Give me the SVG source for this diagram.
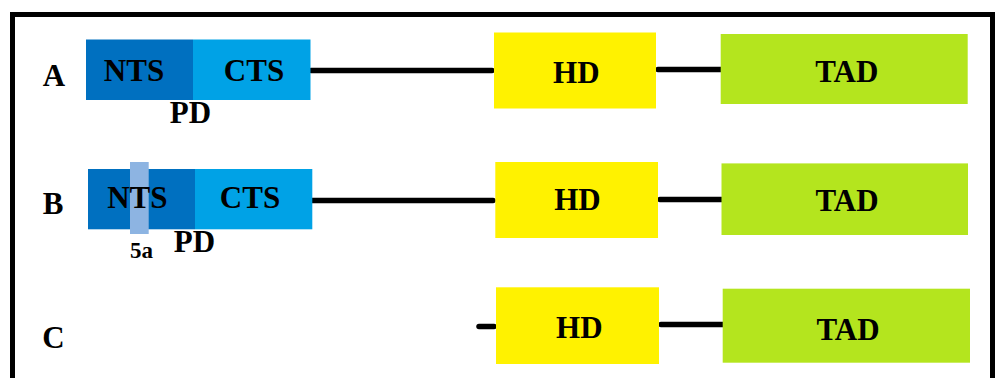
<svg xmlns="http://www.w3.org/2000/svg" width="999" height="378" viewBox="0 0 999 378">
  <style>
    .t { font-family: "Liberation Serif", "Times New Roman", serif; font-weight: bold; font-size: 31px; fill: #000; text-anchor: middle; }
    .s { font-size: 23px; }
    .conn { stroke: #000; stroke-width: 5.5; stroke-linecap: round; fill: none; }
    .nts { fill: #0070C0; }
    .cts { fill: #00A2E6; }
    .hd { fill: #FFF200; }
    .tad { fill: #B4E51E; }
    .bar { fill: #8DB4E2; }
  </style>
  <rect width="999" height="378" fill="#fff"/>
  <rect id="frame" x="12.5" y="14.5" width="980" height="400" fill="none" stroke="#000" stroke-width="5"/>

  <g id="connectors">
    <line class="conn" x1="311" y1="70.5" x2="492" y2="70.5"/>
    <line class="conn" x1="658" y1="69.5" x2="724" y2="69.5"/>
    <line class="conn" x1="312" y1="200.5" x2="493" y2="200.5"/>
    <line class="conn" x1="660" y1="199.5" x2="725" y2="199.5"/>
    <line class="conn" x1="479" y1="326.5" x2="494" y2="326.5"/>
    <line class="conn" x1="661" y1="324.5" x2="725" y2="324.5"/>
  </g>

  <text class="t" x="54" y="86">A</text>
  <text class="t" x="53" y="214">B</text>
  <text class="t" x="53.5" y="348">C</text>

  <g id="A-PD">
    <rect class="nts" x="86" y="39.5" width="107" height="60.5"/>
    <rect class="cts" x="193" y="39.5" width="117.5" height="60.5"/>
    <text class="t" x="134" y="81">NTS</text>
    <text class="t" x="254" y="81">CTS</text>
    <text class="t" x="190.5" y="122.5">PD</text>
  </g>
  <g id="A-HD">
    <rect class="hd" x="494" y="32.5" width="162" height="76"/>
    <text class="t" x="576.3" y="83.3">HD</text>
  </g>
  <g id="A-TAD">
    <rect class="tad" x="720.7" y="34" width="247" height="70"/>
    <text class="t" x="846.8" y="81.7">TAD</text>
  </g>

  <g id="B-PD">
    <rect class="nts" x="88" y="169" width="107" height="60.3"/>
    <rect class="cts" x="195" y="169" width="117.3" height="60.3"/>
    <rect class="bar" x="130" y="162" width="18.7" height="72"/>
    <text class="t" x="137.3" y="208.3">NTS</text>
    <text class="t" x="250" y="208">CTS</text>
    <text class="t" x="194.5" y="251.7">PD</text>
    <text class="t s" x="141.5" y="258.3">5a</text>
  </g>
  <g id="B-HD">
    <rect class="hd" x="495.3" y="162" width="162.7" height="76"/>
    <text class="t" x="577.5" y="210">HD</text>
  </g>
  <g id="B-TAD">
    <rect class="tad" x="721.5" y="163.4" width="246.5" height="71.6"/>
    <text class="t" x="847" y="210.5">TAD</text>
  </g>

  <g id="C-HD">
    <rect class="hd" x="496" y="287.3" width="163" height="76.7"/>
    <text class="t" x="579.3" y="338">HD</text>
  </g>
  <g id="C-TAD">
    <rect class="tad" x="722.7" y="288.7" width="247.3" height="74"/>
    <text class="t" x="848" y="339.5">TAD</text>
  </g>
</svg>
